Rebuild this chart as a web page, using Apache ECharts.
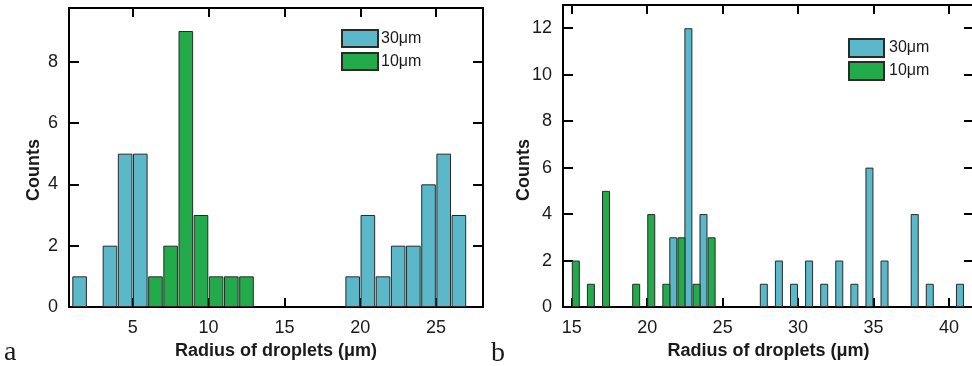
<!DOCTYPE html>
<html>
<head>
<meta charset="utf-8">
<script src="https://cdn.jsdelivr.net/npm/echarts@6/dist/echarts.min.js"></script>
<style>html,body{margin:0;padding:0;background:#fff}#c{width:972px;height:366px}</style>
</head>
<body>
<div id="c"></div>
<script>
// Chart a
const aBlueX = [1.5, 3.5, 4.5, 5.5, 19.5, 20.5, 21.5, 22.5, 23.5, 24.5, 25.5, 26.5];
const aBlueY = [1, 2, 5, 5, 1, 3, 1, 2, 2, 4, 5, 3];
const aGreenX = [6.5, 7.5, 8.5, 9.5, 10.5, 11.5, 12.5];
const aGreenY = [1, 2, 9, 3, 1, 1, 1];
const aXTicks = [5, 10, 15, 20, 25];
const aYTicks = [0, 2, 4, 6, 8];
// Chart b
const bGreenX = [15.27, 16.27, 17.27, 19.27, 20.27, 21.27, 22.27, 23.27, 24.27];
const bGreenY = [2, 1, 5, 1, 4, 1, 3, 1, 3];
const bBlueX = [21.73, 22.73, 23.73, 27.73, 28.73, 29.73, 30.73, 31.73, 32.73, 33.73, 34.73, 35.73, 37.73, 38.73, 40.73];
const bBlueY = [3, 12, 4, 1, 2, 1, 2, 1, 2, 1, 6, 2, 4, 1, 1];
const bXTicks = [15, 20, 25, 30, 35, 40];
const bYTicks = [0, 2, 4, 6, 8, 10, 12];

const names = ['30\u03bcm', '10\u03bcm'];
const xTitle = 'Radius of droplets (\u03bcm)';
const yTitle = 'Counts';

const BLUE = '#5bb8c8', GREEN = '#22aa4b', EDGE = '#2a2a2a';
const FONT = 'Liberation Sans, Arial, sans-serif';

function zip(xs, ys) { return xs.map((x, i) => [x, ys[i]]); }

function axisBase(extra) {
  return Object.assign({
    type: 'value',
    axisLine: { show: true, onZero: false, lineStyle: { color: '#000', width: 2 } },
    axisTick: { show: true, inside: true, length: 10, lineStyle: { color: '#000', width: 2 } },
    axisLabel: { show: false },
    splitLine: { show: false }
  }, extra);
}

function xPair(gi, min, max, ticks) {
  const bottom = axisBase({
    gridIndex: gi, position: 'bottom', min: min, max: max,
    axisTick: { show: true, inside: true, length: 9, customValues: ticks, lineStyle: { color: '#000', width: 2 } },
    axisLabel: { show: true, customValues: ticks, margin: 12, color: '#1a1a1a', fontSize: 18, fontFamily: FONT },
    name: xTitle, nameLocation: 'middle', nameGap: 27,
    nameTextStyle: { fontSize: 18, fontWeight: 'bold', color: '#1a1a1a', fontFamily: FONT }
  });
  const top = axisBase({
    gridIndex: gi, position: 'top', min: min, max: max,
    axisTick: { show: true, inside: true, length: 9, customValues: ticks, lineStyle: { color: '#000', width: 2 } }
  });
  return [bottom, top];
}

function yPair(gi, max, ticks) {
  const left = axisBase({
    gridIndex: gi, position: 'left', min: 0, max: max,
    axisTick: { show: true, inside: true, length: 10, customValues: ticks, lineStyle: { color: '#000', width: 2 } },
    axisLabel: { show: true, customValues: ticks, margin: 11, color: '#1a1a1a', fontSize: 18, fontFamily: FONT }
  });
  const right = axisBase({
    gridIndex: gi, position: 'right', min: 0, max: max,
    axisTick: { show: true, inside: true, length: 10, customValues: ticks, lineStyle: { color: '#000', width: 2 } }
  });
  return [left, right];
}

const chart = echarts.init(document.getElementById('c'), null, { renderer: 'canvas' });

const barStyle = (c) => ({ color: c, borderColor: EDGE, borderWidth: 1 });

chart.setOption({
  animation: false,
  backgroundColor: '#ffffff',
  grid: [
    { left: 69, top: 8, width: 414, height: 299, outerBoundsMode: 'none', containLabel: false },
    { left: 563, top: 5, width: 411, height: 302, outerBoundsMode: 'none', containLabel: false }
  ],
  xAxis: [].concat(xPair(0, 0.8, 28.09, aXTicks), xPair(1, 14.42, 41.66, bXTicks)),
  yAxis: [].concat(yPair(0, 9.75, aYTicks), yPair(1, 13, bYTicks)),
  legend: [
    { left: 341, top: 29, orient: 'vertical', padding: 0, icon: 'rect', itemWidth: 36, itemHeight: 17, itemGap: 4,
      data: names, selectedMode: false,
      textStyle: { fontSize: 16, color: '#1a1a1a', fontFamily: FONT, padding: [0, 0, 0, -2] } },
    { left: 848, top: 38, orient: 'vertical', padding: 0, icon: 'rect', itemWidth: 35, itemHeight: 18, itemGap: 3,
      data: names, selectedMode: false,
      textStyle: { fontSize: 16, color: '#1a1a1a', fontFamily: FONT } }
  ],
  series: [
    { name: names[0], type: 'bar', xAxisIndex: 0, yAxisIndex: 0, barWidth: 14.6, barGap: '-100%',
      itemStyle: barStyle(BLUE), data: zip(aBlueX, aBlueY) },
    { name: names[1], type: 'bar', xAxisIndex: 0, yAxisIndex: 0, barWidth: 14.6, barGap: '-100%',
      itemStyle: barStyle(GREEN), data: zip(aGreenX, aGreenY) },
    { name: names[0], type: 'bar', xAxisIndex: 2, yAxisIndex: 2, barWidth: 8, barGap: '-100%',
      itemStyle: barStyle(BLUE), data: zip(bBlueX, bBlueY) },
    { name: names[1], type: 'bar', xAxisIndex: 2, yAxisIndex: 2, barWidth: 8, barGap: '-100%',
      itemStyle: barStyle(GREEN), data: zip(bGreenX, bGreenY) }
  ],
  graphic: [
    { type: 'text', x: 34, y: 170, rotation: Math.PI / 2,
      style: { text: yTitle, font: 'bold 18px ' + FONT, fill: '#1a1a1a', textAlign: 'center', textVerticalAlign: 'middle' } },
    { type: 'text', x: 524, y: 170, rotation: Math.PI / 2,
      style: { text: yTitle, font: 'bold 18px ' + FONT, fill: '#1a1a1a', textAlign: 'center', textVerticalAlign: 'middle' } },
    { type: 'text', x: 4, y: 367,
      style: { text: 'a', font: '28px "Liberation Serif", "Times New Roman", serif', fill: '#1a1a1a', textAlign: 'left', textVerticalAlign: 'bottom' } },
    { type: 'text', x: 491, y: 368,
      style: { text: 'b', font: '28px "Liberation Serif", "Times New Roman", serif', fill: '#1a1a1a', textAlign: 'left', textVerticalAlign: 'bottom' } }
  ]
});
</script>
</body>
</html>
